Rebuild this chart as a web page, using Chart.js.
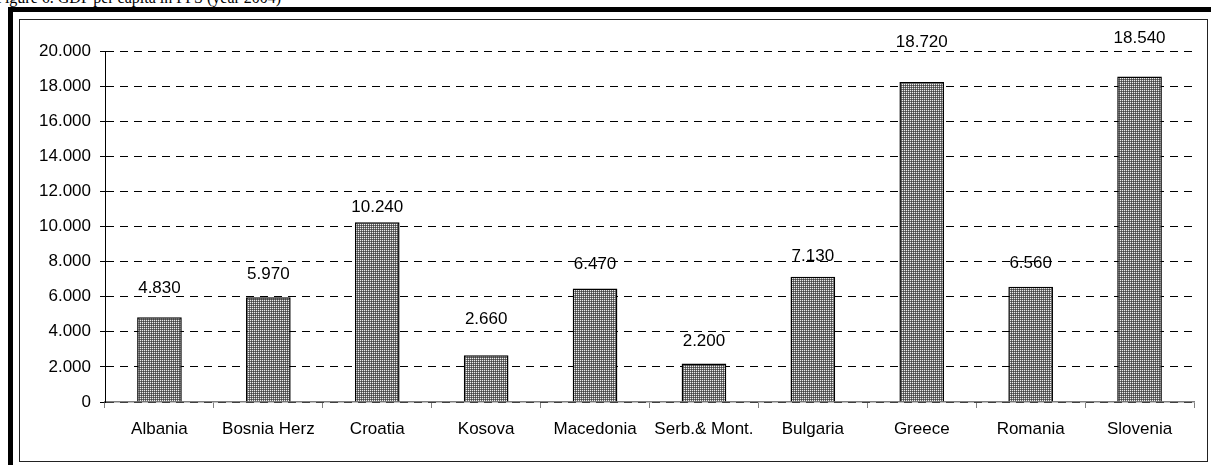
<!DOCTYPE html>
<html lang="en">
<head>
  <meta charset="UTF-8">
  <title>GDP per capita</title>
  <script src="https://cdn.jsdelivr.net/npm/chart.js@4.4.1/dist/chart.umd.min.js"></script>
  <style>
    body { margin: 0; background: #fff; width: 1211px; height: 465px; overflow: hidden; position: relative; }
    #caption { position: absolute; left: -4px; top: -11px; font: 16px "Liberation Serif", serif; color: #000; white-space: nowrap; }
    #outer { position: absolute; left: 8px; top: 7px; width: 1210px; height: 470px; border-top: 5px solid #000; border-left: 5px solid #000; }
    #inner { position: absolute; left: 19px; top: 19px; width: 1187px; height: 441px; border: 1px solid #222; }
    #wrap { position: absolute; left: 0; top: 0; width: 1211px; height: 465px; }
  </style>
</head>
<body>
  <div id="caption">Figure 6. GDP per capita in PPS (year 2004)</div>
  <div id="outer"></div>
  <div id="inner"></div>
  <div id="wrap"><canvas id="myChart" width="1211" height="465"></canvas></div>
  <script>
    const countries = ['Albania', 'Bosnia Herz', 'Croatia', 'Kosova', 'Macedonia', 'Serb.& Mont.', 'Bulgaria', 'Greece', 'Romania', 'Slovenia'];
    // bar heights as drawn (Greece bar is drawn lower than its label says)
    const gdp = [4830, 5970, 10240, 2660, 6470, 2200, 7130, 18230, 6560, 18540];
    // value labels as printed above the bars
    const gdpLabels = ['4.830', '5.970', '10.240', '2.660', '6.470', '2.200', '7.130', '18.720', '6.560', '18.540'];
    const yTicks = [0, 2000, 4000, 6000, 8000, 10000, 12000, 14000, 16000, 18000, 20000];

    // labels were hand-placed in the original, so lift differs per bar (px above bar top)
    const labelLift = [29, 23, 15, 36, 24, 22, 21, 40, 24, 38];

    const fmt = v => v === 0 ? '0' : Math.floor(v / 1000) + '.' + String(v % 1000).padStart(3, '0');
    const FONT = '"Liberation Sans", Arial, sans-serif';

    // dotted grey fill like the old Excel pattern
    const pc = document.createElement('canvas');
    pc.width = 2; pc.height = 2;
    const px = pc.getContext('2d');
    px.fillStyle = '#6e6e6e'; px.fillRect(0, 0, 2, 2);
    px.fillStyle = '#eeeeee'; px.fillRect(0, 0, 1, 1);
    px.fillStyle = '#444444'; px.fillRect(1, 1, 1, 1);

    const valueLabels = {
      id: 'valueLabels',
      afterDatasetsDraw(chart) {
        const c = chart.ctx;
        c.save();
        c.font = '17px ' + FONT;
        c.fillStyle = '#000';
        c.textAlign = 'center';
        c.textBaseline = 'middle';
        chart.getDatasetMeta(0).data.forEach((bar, i) => {
          c.fillText(gdpLabels[i], bar.x, bar.y - labelLift[i]);
        });
        c.restore();
      }
    };

    const ctx = document.getElementById('myChart').getContext('2d');
    const myChart = new Chart(ctx, {
      type: 'bar',
      data: {
        labels: countries,
        datasets: [{
          data: gdp,
          backgroundColor: px.createPattern(pc, 'repeat'),
          borderColor: '#000',
          borderWidth: 1.5,
          categoryPercentage: 1,
          barPercentage: 0.41
        }]
      },
      options: {
        responsive: false,
        animation: false,
        devicePixelRatio: 1,
        layout: { padding: { top: 51, right: 17, bottom: 18, left: 0 } },
        plugins: { legend: { display: false }, tooltip: { enabled: false } },
        scales: {
          x: {
            afterFit: s => { s.height = 45; },
            grid: { offset: true, drawOnChartArea: false, drawTicks: true, tickLength: 6, color: '#808080' },
            border: { color: '#808080', width: 1.5 },
            ticks: { color: '#000', padding: 11, autoSkip: false, maxRotation: 0, font: { family: FONT, size: 17 } }
          },
          y: {
            min: 0, max: 20000,
            afterFit: s => { s.width = 105; },
            afterBuildTicks: s => { s.ticks = yTicks.map(v => ({ value: v })); },
            grid: { color: '#000', tickLength: 5, tickColor: '#000', lineWidth: 1 },
            border: { color: '#000', width: 1, dash: [8, 6] },
            ticks: { color: '#000', padding: 9, callback: v => fmt(v), font: { family: FONT, size: 17 } }
          }
        }
      },
      plugins: [valueLabels]
    });
  </script>
</body>
</html>
